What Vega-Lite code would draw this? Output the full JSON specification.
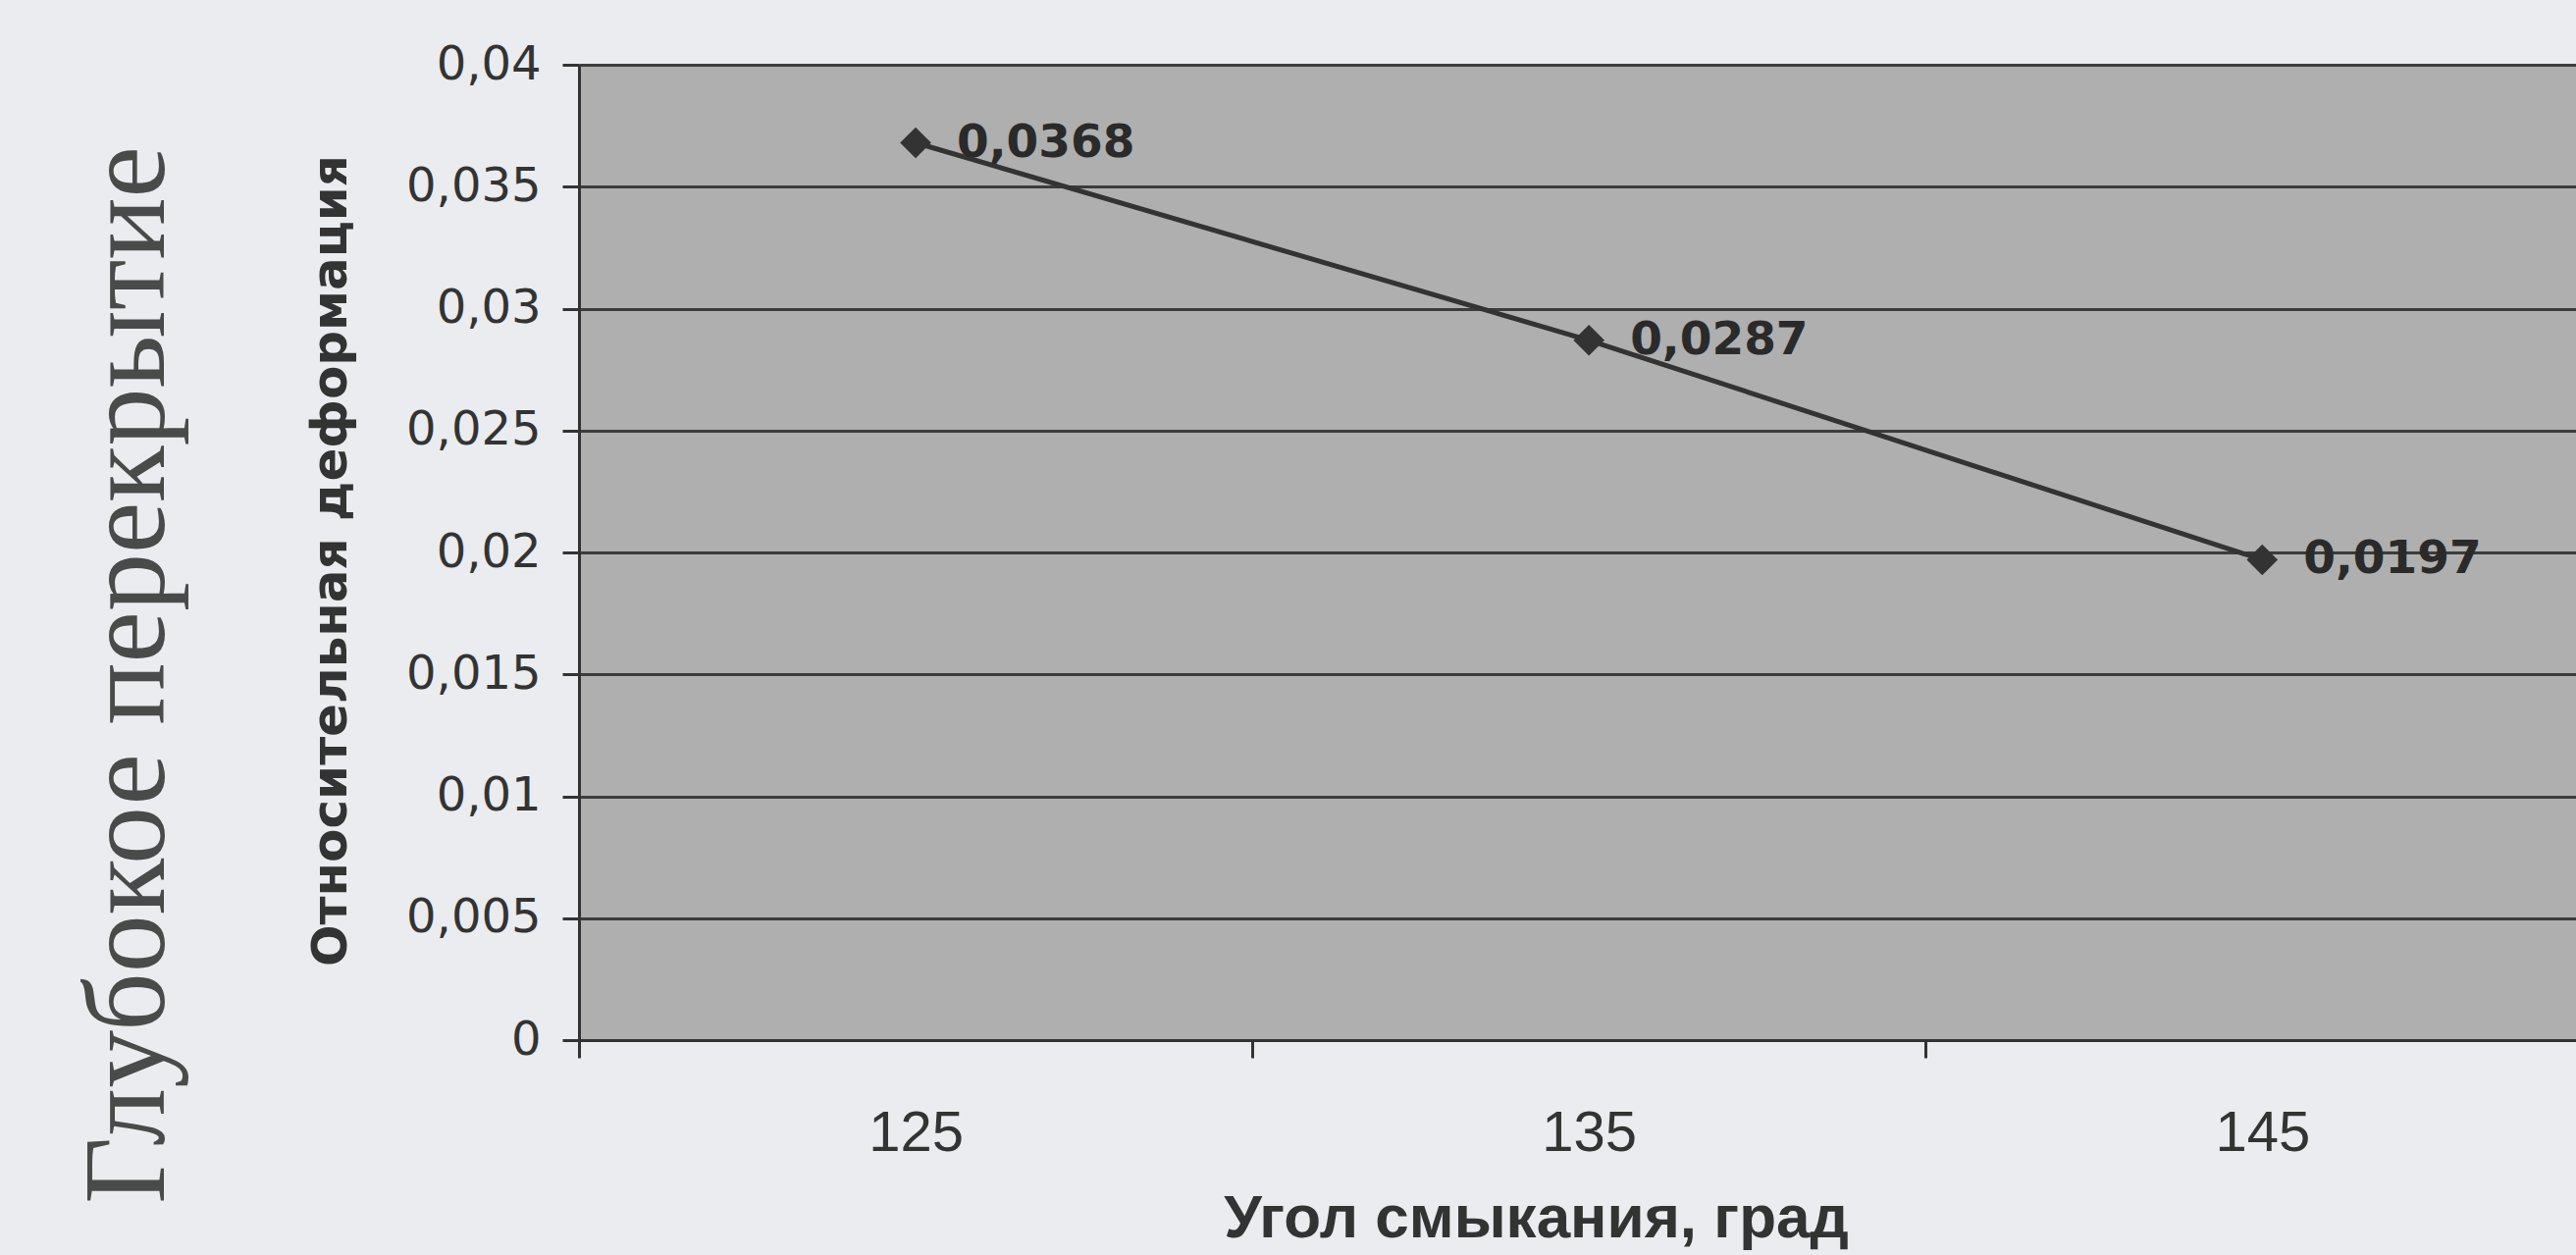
{
  "$schema": "https://vega.github.io/schema/vega-lite/v6.json",
  "autosize": {"type": "none"},
  "padding": {"left": 590, "top": 66, "right": 0, "bottom": 219},
  "width": 2035,
  "height": 994,
  "background": "#eaecef",
  "title": {
    "text": "Глубокое перекрытие",
    "orient": "left",
    "anchor": "middle",
    "font": "Liberation Serif",
    "fontSize": 118,
    "fontWeight": "normal",
    "color": "#4a4a4a",
    "offset": 120,
    "dx": -125
  },
  "data": {
    "values": [
      {"angle": 125, "deformation": 0.0368},
      {"angle": 135, "deformation": 0.0287},
      {"angle": 145, "deformation": 0.0197}
    ]
  },
  "encoding": {
    "x": {
      "field": "angle",
      "type": "quantitative",
      "scale": {"domain": [120, 149.66], "nice": false, "zero": false},
      "axis": {
        "title": "Угол смыкания, град",
        "titleFont": "Liberation Sans",
        "titleFontSize": 62,
        "titleFontWeight": "bold",
        "titleColor": "#333333",
        "titleX": 975,
        "titleY": 200,
        "titleBaseline": "alphabetic",
        "titleAnchor": "middle",
        "values": [120, 125, 130, 135, 140, 145],
        "labelExpr": "datum.value % 10 === 5 ? datum.label : ''",
        "labelFont": "Liberation Sans Narrow, Liberation Sans",
        "labelFontSize": 58,
        "labelColor": "#333333",
        "labelPadding": 48,
        "tickSize": 18,
        "tickWidth": 3,
        "tickColor": "#333333",
        "tickOpacity": {"condition": {"test": "datum.value % 10 === 5", "value": 0}, "value": 1},
        "domainColor": "#333333",
        "domainWidth": 3,
        "grid": false
      }
    },
    "y": {
      "field": "deformation",
      "type": "quantitative",
      "scale": {"domain": [0, 0.04], "nice": false},
      "axis": {
        "title": "Относительная деформация",
        "titleFont": "DejaVu Sans",
        "titleFontSize": 50,
        "titleFontWeight": "bold",
        "titleColor": "#333333",
        "titleX": -238,
        "titleY": 505,
        "titleBaseline": "alphabetic",
        "titleAnchor": "middle",
        "values": [0, 0.005, 0.01, 0.015, 0.02, 0.025, 0.03, 0.035, 0.04],
        "format": ".3~f",
        "labelFont": "DejaVu Sans",
        "labelFontSize": 48,
        "labelColor": "#333333",
        "labelPadding": 22,
        "tickSize": 17,
        "tickWidth": 3,
        "tickColor": "#333333",
        "domainColor": "#333333",
        "domainWidth": 3,
        "grid": true,
        "gridColor": "#3c3c3c",
        "gridWidth": 3,
        "gridOpacity": 1
      }
    }
  },
  "layer": [
    {
      "mark": {"type": "line", "color": "#333333", "strokeWidth": 5}
    },
    {
      "mark": {"type": "point", "shape": "diamond", "filled": true, "size": 1000, "color": "#333333", "opacity": 1}
    },
    {
      "mark": {"type": "text", "align": "left", "baseline": "middle", "dx": 42, "font": "DejaVu Sans", "fontSize": 47, "fontWeight": "bold", "color": "#2a2a2a"},
      "encoding": {
        "text": {"field": "deformation", "type": "quantitative", "format": ".4f"}
      }
    }
  ],
  "config": {
    "locale": {"number": {"decimal": ",", "thousands": " ", "grouping": [3], "currency": ["", ""]}},
    "view": {"fill": "#afafaf", "stroke": null}
  }
}
